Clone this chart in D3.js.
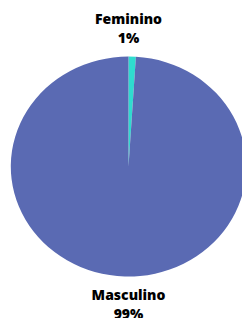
<!DOCTYPE html>
<html>
<head>
<meta charset="utf-8">
<script src="https://cdn.jsdelivr.net/npm/d3@7"></script>
<style>
  html, body { margin: 0; padding: 0; background: #fff; overflow: hidden; }
  text { font-family: "Open Sans", "DejaVu Sans", sans-serif; font-weight: 800; fill: #000; }
</style>
</head>
<body>
<div id="chart"></div>
<script>
// --- Data ---
const categories = ["Feminino", "Masculino"];
const values = [1, 99];
const colors = ["#2fdccf", "#5a6ab3"];

// --- Layout ---
const width = 242, height = 318;
const cx = 128.5, cy = 166.5;
const radius = 110;
const stretchX = 1.07; // source image is slightly widened

const svg = d3.select("#chart").append("svg")
  .attr("width", width)
  .attr("height", height);

const pie = d3.pie().sort(null).value(d => d.value);
const arc = d3.arc().innerRadius(0).outerRadius(radius);

const data = categories.map((c, i) => ({ name: c, value: values[i], color: colors[i] }));
const arcs = pie(data);

svg.append("g")
  .attr("transform", `translate(${cx},${cy}) scale(${stretchX},1)`)
  .selectAll("path")
  .data(arcs)
  .enter().append("path")
  .attr("d", arc)
  .attr("fill", d => d.data.color);

// Labels: small slice above the pie, big slice below
const labelPos = { "Feminino": [24, 43], "Masculino": [300, 319] };

const labels = svg.append("g").selectAll("g")
  .data(arcs)
  .enter().append("g");

labels.append("text")
  .attr("x", cx)
  .attr("y", d => labelPos[d.data.name][0])
  .attr("text-anchor", "middle")
  .attr("font-size", 14)
  .text(d => d.data.name);

labels.append("text")
  .attr("x", cx)
  .attr("y", d => labelPos[d.data.name][1])
  .attr("text-anchor", "middle")
  .attr("font-size", 14)
  .text(d => d.data.value + "%");
</script>
</body>
</html>
